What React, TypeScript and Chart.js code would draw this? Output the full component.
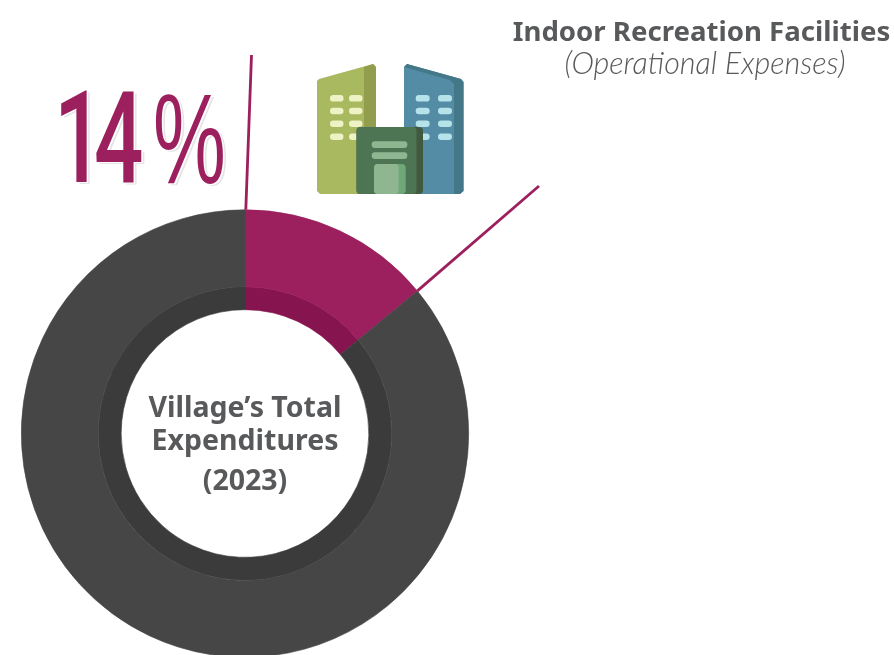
import React, { useEffect, useRef } from "react";
import { Chart, registerables } from "chart.js";

Chart.register(...registerables);

const categories = ["Indoor Recreation Facilities", "Other expenditures"];
const shares = [14, 86];
const outerColors = ["#9c1f5e", "#464646"];
const innerColors = ["#86144f", "#3b3b3b"];
const headline = ["1", "4", "%"];
const centerLines = ["Village\u2019s Total", "Expenditures", "(2023)"];
const titleLines = ["Indoor Recreation Facilities", "(Operational Expenses)"];

const PURPLE = "#9c1f5e";
const GREY = "#58595b";

function rr(ctx: CanvasRenderingContext2D, x: number, y: number, w: number, h: number, r: number, fill: string) {
  ctx.fillStyle = fill;
  ctx.beginPath();
  ctx.roundRect(x, y, w, h, r);
  ctx.fill();
}

function poly(ctx: CanvasRenderingContext2D, pts: number[][], fill: string) {
  ctx.fillStyle = fill;
  ctx.beginPath();
  pts.forEach((p, i) => (i ? ctx.lineTo(p[0], p[1]) : ctx.moveTo(p[0], p[1])));
  ctx.closePath();
  ctx.fill();
}

function drawIcon(ctx: CanvasRenderingContext2D) {
  poly(ctx, [[317, 81], [317, 191], [320, 194], [376, 194], [376, 67], [373, 64], [319, 79]], "#a9b95f");
  poly(ctx, [[364, 67], [373, 64], [376, 67], [376, 194], [364, 194]], "#939d4e");
  poly(ctx, [[404, 67], [407, 64], [461, 79], [463.5, 82], [463.5, 191], [460, 194], [404, 194]], "#548ba5");
  poly(ctx, [[407, 64], [461, 79], [463.5, 82], [463.5, 191], [460, 194], [454, 194], [454, 84], [450, 80], [404, 67]], "#447787");
  [98.3, 111, 123.7, 136.7].forEach((y) => {
    rr(ctx, 330, y - 3.2, 13.5, 6.5, 3.2, "#eef2c4");
    rr(ctx, 349, y - 3.2, 13.5, 6.5, 3.2, "#eef2c4");
    rr(ctx, 415.7, y - 3.2, 14, 6.5, 3.2, "#b6e3ea");
    rr(ctx, 438, y - 3.2, 14, 6.5, 3.2, "#b6e3ea");
  });
  rr(ctx, 356.5, 127, 66.5, 67, 4, "#41593f");
  rr(ctx, 356.5, 127, 60, 67, 4, "#4e7553");
  rr(ctx, 371.7, 141.3, 35.6, 6.6, 3.2, "#8fb690");
  rr(ctx, 371.7, 152.3, 35.6, 6.6, 3.2, "#8fb690");
  rr(ctx, 374, 164, 31.7, 30, 4, "#6fa878");
  rr(ctx, 374, 164, 24.7, 30, 4, "#8fb690");
}

function stretched(ctx: CanvasRenderingContext2D, text: string, x: number, y: number, sx: number, sy: number, font: string, fill: string) {
  ctx.save();
  ctx.translate(x, y);
  ctx.scale(sx, sy);
  ctx.font = font;
  ctx.fillStyle = fill;
  ctx.textAlign = "left";
  ctx.textBaseline = "alphabetic";
  ctx.fillText(text, 0, 0);
  ctx.restore();
}

const decorations = {
  id: "decorations",
  afterDraw(chart: any) {
    const ctx: CanvasRenderingContext2D = chart.ctx;
    const arc = chart.getDatasetMeta(0).data[0];
    const { x, y, outerRadius, startAngle, endAngle } = arc;
    const cx = x;
    ctx.save();

    // leader lines
    ctx.strokeStyle = PURPLE;
    ctx.lineWidth = 2.8;
    ctx.beginPath();
    ctx.moveTo(x + outerRadius * Math.cos(startAngle) + 0.8, y + outerRadius * Math.sin(startAngle));
    ctx.lineTo(251.5, 55);
    ctx.stroke();
    ctx.beginPath();
    ctx.moveTo(x + outerRadius * Math.cos(endAngle), y + outerRadius * Math.sin(endAngle));
    ctx.lineTo(539, 186);
    ctx.stroke();

    // headline figure with offset outline
    const drawHead = (dx: number, dy: number, fill: string) => {
      stretched(ctx, headline[0], 54 + dx, 181.5 + dy, 0.68, 1, "500 128px Roboto", fill);
      stretched(ctx, headline[1], 94 + dx, 181.5 + dy, 0.68, 1, "500 128px Roboto", fill);
      stretched(ctx, headline[2], 153 + dx, 183 + dy, 0.64, 1.0, "400 128px 'Liberation Sans'", fill);
    };
    drawHead(3, 2, "#e4e4e6");
    drawHead(1.6, 1, "#ffffff");
    drawHead(0, 0, PURPLE);

    drawIcon(ctx);

    // title
    ctx.textAlign = "center";
    ctx.textBaseline = "alphabetic";
    ctx.fillStyle = GREY;
    ctx.font = "bold 27.6px 'Noto Sans'";
    ctx.fillText(titleLines[0], 701.5, 41);
    ctx.font = "italic 300 30.5px Lato";
    ctx.fillText(titleLines[1], 705, 74);

    // centre label
    ctx.font = "bold 28.5px 'Noto Sans'";
    ctx.fillText(centerLines[0], cx, 417);
    ctx.fillText(centerLines[1], cx, 449.5);
    ctx.fillText(centerLines[2], cx, 490);
    ctx.restore();
  },
};

export default function App() {
  const ref = useRef<HTMLCanvasElement>(null);
  useEffect(() => {
    const chart = new Chart(ref.current!, {
      type: "doughnut",
      data: {
        labels: categories,
        datasets: [
          { data: shares, backgroundColor: outerColors, borderColor: outerColors, borderWidth: 0.6, weight: 77 },
          { data: shares, backgroundColor: innerColors, borderColor: innerColors, borderWidth: 0.6, weight: 23 },
        ],
      },
      options: {
        responsive: false,
        animation: false,
        cutout: `${(124 / 224) * 100}%`,
        layout: { padding: { left: 21, right: 425, top: 209.5, bottom: 2.5 } },
        plugins: { legend: { display: false }, tooltip: { enabled: false } },
      },
      plugins: [decorations],
    } as any);
    return () => chart.destroy();
  }, []);
  return (
    <div style={{ position: "fixed", left: 0, top: 0, width: 894, height: 655, overflow: "hidden", background: "#fff" }}>
      <canvas ref={ref} width={894} height={660} style={{ display: "block", width: 894, height: 660 }} />
    </div>
  );
}
